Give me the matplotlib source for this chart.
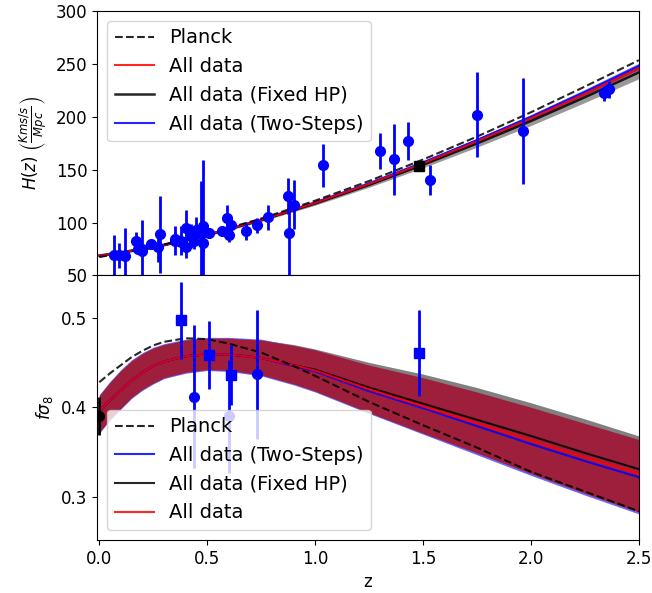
import numpy as np
import matplotlib
matplotlib.use('Agg')
import matplotlib.pyplot as plt

# H(z) measurements (CC + BAO)
z_hz = [0.07, 0.09, 0.12, 0.17, 0.179, 0.199, 0.2, 0.27, 0.28, 0.352, 0.3802, 0.4, 0.4004,
        0.4247, 0.4497, 0.47, 0.4783, 0.48, 0.593, 0.68, 0.781, 0.875, 0.88, 0.9, 1.037,
        1.3, 1.363, 1.43, 1.53, 1.75, 1.965,
        0.24, 0.35, 0.43, 0.44, 0.57, 0.6, 0.73, 2.34, 2.36, 0.38, 0.51, 0.61]
H_hz = [69, 69, 68.6, 83, 75, 75, 72.9, 77, 88.8, 83, 83, 95, 77,
        87.1, 92.8, 89, 80.9, 97, 104, 92, 105, 125, 90, 117, 154,
        168, 160, 177, 140, 202, 186.5,
        79.7, 84.4, 86.5, 82.6, 92.4, 87.9, 97.3, 222, 226, 81.5, 90.4, 97.3]
sH_hz = [19.6, 12, 26.2, 8, 4, 5, 29.6, 14, 36.6, 14, 13.5, 17, 10.2,
         11.2, 12.9, 50, 9, 62, 13, 8, 12, 17, 40, 23, 20,
         17, 33.6, 18, 14, 40, 50.4,
         3, 7, 4, 7.8, 4.5, 6.1, 7, 7, 8, 1.9, 1.9, 2.1]
z_mock_H = [1.48]
H_mock = [153.5]

# f sigma8 data
z_fs_sq = [0.38, 0.51, 0.61, 1.48]
fs_sq = [0.497, 0.458, 0.436, 0.461]
sfs_sq = [0.043, 0.038, 0.034, 0.048]
z_fs_ci = [0.44, 0.60, 0.73]
fs_ci = [0.412, 0.390, 0.437]
sfs_ci = [0.080, 0.063, 0.072]
z_fs0 = [0.0]
fs0 = [0.390]
sfs0 = [0.021]

# reconstructed H(z)
zH = [0, 0.25, 0.5, 0.75, 1.0, 1.25, 1.5, 1.75, 2.0, 2.25, 2.5]
H_planck = [67.4, 76.9, 89.1, 103.8, 120.7, 139.3, 159.6, 181.3, 204.3, 228.6, 253.5]
H_all = [68.5, 76.5, 88.3, 102.5, 118.6, 136.5, 156.0, 176.8, 198.6, 221.8, 246.0]
sH_all = [0.8, 0.7, 0.6, 0.6, 0.7, 0.8, 1.0, 1.2, 1.3, 1.5, 1.7]
H_two = [68.6, 76.7, 88.6, 102.9, 119.2, 137.2, 156.9, 178.0, 200.0, 223.5, 248.0]
sH_two = [1.0, 0.9, 0.8, 0.8, 1.0, 1.2, 1.5, 1.8, 2.1, 2.4, 2.7]
H_fix = [68.8, 76.6, 88.2, 102.2, 118.0, 135.6, 154.6, 174.8, 196.0, 218.5, 242.0]
sH_fix = [1.2, 1.0, 1.0, 1.2, 1.6, 2.2, 2.8, 3.5, 4.2, 5.0, 6.0]

# reconstructed f sigma8
zf = [0, 0.05, 0.1, 0.15, 0.2, 0.25, 0.3, 0.4, 0.5, 0.6, 0.75, 0.9, 1.0, 1.25, 1.5, 1.75, 2.0, 2.25, 2.5]
fs_planck = [0.428, 0.438, 0.447, 0.456, 0.463, 0.469, 0.473, 0.477, 0.476, 0.471, 0.461, 0.446, 0.435, 0.406, 0.380, 0.355, 0.328, 0.306, 0.284]
fs_all = [0.395, 0.408, 0.419, 0.430, 0.439, 0.446, 0.451, 0.457, 0.459, 0.459, 0.455, 0.447, 0.441, 0.420, 0.401, 0.382, 0.363, 0.344, 0.326]
fs_all_up = [0.413, 0.428, 0.441, 0.452, 0.460, 0.466, 0.470, 0.475, 0.477, 0.477, 0.475, 0.469, 0.464, 0.447, 0.433, 0.417, 0.400, 0.382, 0.364]
fs_all_lo = [0.372, 0.387, 0.399, 0.411, 0.420, 0.427, 0.433, 0.439, 0.442, 0.441, 0.436, 0.426, 0.418, 0.394, 0.371, 0.349, 0.326, 0.304, 0.283]
fs_fix = [0.395, 0.408, 0.419, 0.430, 0.439, 0.446, 0.451, 0.457, 0.459, 0.459, 0.455, 0.447, 0.442, 0.422, 0.404, 0.386, 0.368, 0.349, 0.331]
fs_fix_up = [0.413, 0.428, 0.441, 0.452, 0.460, 0.466, 0.470, 0.475, 0.477, 0.477, 0.475, 0.470, 0.465, 0.450, 0.437, 0.422, 0.405, 0.387, 0.368]
fs_fix_lo = [0.373, 0.388, 0.400, 0.412, 0.421, 0.428, 0.434, 0.440, 0.443, 0.442, 0.437, 0.428, 0.420, 0.397, 0.375, 0.353, 0.331, 0.310, 0.289]
fs_two = [0.395, 0.408, 0.419, 0.430, 0.439, 0.446, 0.451, 0.457, 0.459, 0.459, 0.455, 0.446, 0.440, 0.418, 0.399, 0.379, 0.359, 0.340, 0.322]
fs_two_up = [0.414, 0.429, 0.442, 0.453, 0.461, 0.467, 0.471, 0.476, 0.478, 0.478, 0.476, 0.469, 0.464, 0.446, 0.432, 0.416, 0.399, 0.381, 0.363]
fs_two_lo = [0.371, 0.386, 0.398, 0.410, 0.419, 0.426, 0.432, 0.438, 0.441, 0.440, 0.435, 0.425, 0.417, 0.393, 0.370, 0.347, 0.324, 0.302, 0.281]

plt.rcParams['font.size'] = 12
plt.rcParams['legend.fontsize'] = 14
fig, (ax1, ax2) = plt.subplots(2, 1, sharex=True, figsize=(6.52, 5.93), dpi=100)
fig.subplots_adjust(left=0.149, right=0.980, top=0.9815, bottom=0.0894, hspace=0)

# top panel
ax1.fill_between(zH, np.array(H_fix) - sH_fix, np.array(H_fix) + sH_fix, color='grey', alpha=0.8, lw=0)
ax1.plot(zH, H_fix, color='black', lw=1.8, alpha=0.85, label='All data (Fixed HP)')
ax1.fill_between(zH, np.array(H_two) - sH_two, np.array(H_two) + sH_two, color='blue', alpha=0.6, lw=0)
ax1.plot(zH, H_two, color='blue', lw=1.5, alpha=0.85, label='All data (Two-Steps)')
ax1.fill_between(zH, np.array(H_all) - sH_all, np.array(H_all) + sH_all, color='#9e1f3b', alpha=0.7, lw=0)
ax1.plot(zH, H_all, color='red', lw=1.5, alpha=0.85, label='All data')
ax1.plot(zH, H_planck, 'k--', lw=1.5, alpha=0.85, label='Planck')
ax1.errorbar(z_hz, H_hz, yerr=sH_hz, fmt='o', color='blue', ms=7, elinewidth=2, capsize=0)
ax1.plot(z_mock_H, H_mock, 's', color='black', ms=7)
ax1.set_ylim(50, 300)
ax1.set_yticks([50, 100, 150, 200, 250, 300])
ax1.set_ylabel(r'$H(z)$ $\left(\frac{Kms/s}{Mpc}\right)$')
h, l = ax1.get_legend_handles_labels()
order = [l.index(s) for s in ['Planck', 'All data', 'All data (Fixed HP)', 'All data (Two-Steps)']]
ax1.legend([h[i] for i in order], [l[i] for i in order], loc='upper left')

# bottom panel
ax2.fill_between(zf, fs_fix_lo, fs_fix_up, color='grey', lw=0)
ax2.fill_between(zf, fs_two_lo, fs_two_up, color='#6a6aff', lw=0)
ax2.fill_between(zf, fs_all_lo, fs_all_up, color='#9e1f3b', lw=0)
ax2.plot(zf, fs_fix, color='black', lw=1.5, alpha=0.85, label='All data (Fixed HP)')
ax2.plot(zf, fs_two, color='blue', lw=1.5, alpha=0.85, label='All data (Two-Steps)')
ax2.plot(zf, fs_all, color='red', lw=1.5, alpha=0.85, label='All data')
ax2.plot(zf, fs_planck, 'k--', lw=1.5, alpha=0.85, label='Planck')
ax2.errorbar(z_fs_sq, fs_sq, yerr=sfs_sq, fmt='s', color='blue', ms=7, elinewidth=2, capsize=0)
ax2.errorbar(z_fs_ci, fs_ci, yerr=sfs_ci, fmt='o', color='blue', ms=7, elinewidth=2, capsize=0)
ax2.errorbar(z_fs0, fs0, yerr=sfs0, fmt='o', color='black', ms=7, elinewidth=2, capsize=0)
ax2.set_ylim(0.252, 0.547)
ax2.set_yticks([0.3, 0.4, 0.5])
ax2.set_ylabel(r'$f\sigma_8$')
ax2.set_xlabel('z')
ax2.set_xlim(-0.01, 2.5)
ax2.set_xticks([0.0, 0.5, 1.0, 1.5, 2.0, 2.5])
h, l = ax2.get_legend_handles_labels()
order = [l.index(s) for s in ['Planck', 'All data (Two-Steps)', 'All data (Fixed HP)', 'All data']]
ax2.legend([h[i] for i in order], [l[i] for i in order], loc='lower left')

fig.savefig('out.png', dpi=100)
